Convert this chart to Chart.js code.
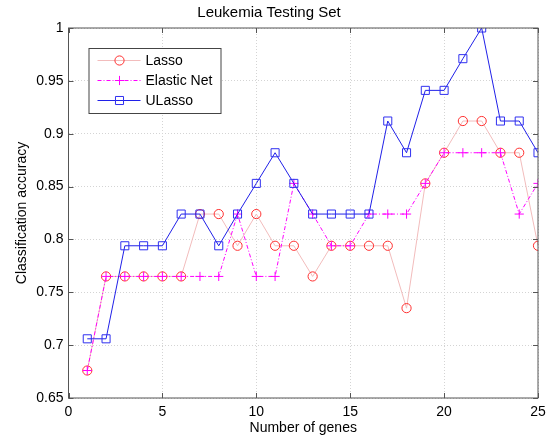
<!DOCTYPE html>
<html>
<head>
<meta charset="utf-8">
<script src="https://cdn.jsdelivr.net/npm/chart.js@4"></script>
<style>
  html, body { margin: 0; padding: 0; background: #fff; }
  #wrap { width: 552px; height: 440px; }
</style>
</head>
<body>
<div id="wrap"><canvas id="chart" width="552" height="440"></canvas></div>
<script>
// data (test set accuracies, steps of 1/34)
const genes = [1, 2, 3, 4, 5, 6, 7, 8, 9, 10, 11, 12, 13, 14, 15, 16, 17, 18, 19, 20, 21, 22, 23, 24, 25];
const lasso = [0.676, 0.765, 0.765, 0.765, 0.765, 0.765, 0.824, 0.824, 0.794, 0.824, 0.794, 0.794, 0.765,
               0.794, 0.794, 0.794, 0.794, 0.735, 0.853, 0.882, 0.912, 0.912, 0.882, 0.882, 0.794];
const elasticNet = [0.676, 0.765, 0.765, 0.765, 0.765, 0.765, 0.765, 0.765, 0.824, 0.765, 0.765, 0.853, 0.824,
                    0.794, 0.794, 0.824, 0.824, 0.824, 0.853, 0.882, 0.882, 0.882, 0.882, 0.824, 0.853];
const uLasso = [0.706, 0.706, 0.794, 0.794, 0.794, 0.824, 0.824, 0.794, 0.824, 0.853, 0.882, 0.853, 0.824,
                0.824, 0.824, 0.824, 0.912, 0.882, 0.941, 0.941, 0.971, 1.0, 0.912, 0.912, 0.882];
const seriesNames = ['Lasso', 'Elastic Net', 'ULasso'];
const xTicks = [0, 5, 10, 15, 20, 25];
const yTicks = [0.65, 0.7, 0.75, 0.8, 0.85, 0.9, 0.95, 1];

const FONT = "'Liberation Sans', Arial, sans-serif";
const AXIS = '#555';

const toPts = ys => ys.map((y, i) => ({ x: genes[i], y: y }));

// box, inward ticks on all sides, and the legend inside the axes
const matlabBox = {
    id: 'matlabBox',
    afterDatasetsDraw(chart) {
        const { ctx, chartArea: a, scales } = chart;
        ctx.save();
        ctx.strokeStyle = AXIS;
        ctx.lineWidth = 1;
        ctx.strokeRect(a.left, a.top, a.right - a.left, a.bottom - a.top);
        ctx.beginPath();
        xTicks.forEach(v => {
            const px = Math.round(scales.x.getPixelForValue(v)) + 0.5;
            ctx.moveTo(px, a.bottom); ctx.lineTo(px, a.bottom - 5);
            ctx.moveTo(px, a.top); ctx.lineTo(px, a.top + 5);
        });
        yTicks.forEach(v => {
            const py = Math.round(scales.y.getPixelForValue(v)) + 0.5;
            ctx.moveTo(a.left, py); ctx.lineTo(a.left + 5, py);
            ctx.moveTo(a.right, py); ctx.lineTo(a.right - 5, py);
        });
        ctx.stroke();

        // legend
        const lx = a.left + 20, ly = a.top + 20, lw = 132, lh = 65;
        ctx.fillStyle = '#fff';
        ctx.fillRect(lx, ly, lw, lh);
        ctx.strokeStyle = '#444';
        ctx.strokeRect(lx + 0.5, ly + 0.5, lw, lh);
        chart.data.datasets.forEach((ds, i) => {
            const y = ly + 12.5 + i * 20;
            ctx.save();
            ctx.strokeStyle = ds.borderColor;
            ctx.lineWidth = 1;
            ctx.setLineDash(ds.borderDash || []);
            ctx.beginPath();
            ctx.moveTo(lx + 9, y); ctx.lineTo(lx + 52, y);
            ctx.stroke();
            ctx.restore();
            ctx.save();
            ctx.strokeStyle = ds.pointBorderColor;
            ctx.fillStyle = 'rgba(0,0,0,0)';
            ctx.lineWidth = 1;
            Chart.helpers.drawPoint(ctx, { pointStyle: ds.pointStyle, radius: ds.pointRadius, borderWidth: 1 }, lx + 31, y);
            ctx.restore();
            ctx.fillStyle = '#000';
            ctx.font = '14px ' + FONT;
            ctx.textBaseline = 'middle';
            ctx.fillText(seriesNames[i], lx + 57, y + 1);
        });
        ctx.restore();
    }
};

new Chart(document.getElementById('chart'), {
    type: 'line',
    data: {
        datasets: [
            {
                label: seriesNames[0], data: toPts(lasso), order: 3,
                borderColor: '#f2bcbc', borderWidth: 1,
                pointStyle: 'circle', pointRadius: 4.6, pointBorderColor: '#ff3030',
                pointBackgroundColor: 'rgba(0,0,0,0)', pointBorderWidth: 1
            },
            {
                label: seriesNames[1], data: toPts(elasticNet), order: 2,
                borderColor: '#ff00ff', borderWidth: 1, borderDash: [4, 2, 1, 2],
                pointStyle: 'cross', pointRadius: 4.6, pointBorderColor: '#ff00ff',
                pointBackgroundColor: 'rgba(0,0,0,0)', pointBorderWidth: 1
            },
            {
                label: seriesNames[2], data: toPts(uLasso), order: 1,
                borderColor: '#2020e8', borderWidth: 1,
                pointStyle: 'rect', pointRadius: 5.7, pointBorderColor: '#3030f0',
                pointBackgroundColor: 'rgba(0,0,0,0)', pointBorderWidth: 1
            }
        ]
    },
    options: {
        responsive: false,
        animation: false,
        devicePixelRatio: 1,
        layout: { padding: { top: 0, right: 14, left: 0, bottom: 0 } },
        plugins: {
            legend: { display: false },
            tooltip: { enabled: false },
            title: {
                display: true,
                text: 'Leukemia Testing Set',
                color: '#000',
                font: { family: FONT, size: 15, weight: 'normal' },
                padding: { top: 4, bottom: 6 }
            }
        },
        scales: {
            x: {
                type: 'linear', min: 0, max: 25,
                afterBuildTicks: s => { s.ticks = xTicks.map(v => ({ value: v })); },
                afterFit: s => { s.height = 42; },
                grid: { color: '#d4d4d4', drawTicks: false, lineWidth: 1 },
                border: { display: false, dash: [1, 2] },
                ticks: { color: '#000', padding: 6, maxRotation: 0,
                         font: { family: FONT, size: 14 } },
                title: { display: true, text: 'Number of genes', color: '#000',
                         font: { family: FONT, size: 14 }, padding: { top: 0, bottom: 3.6 } }
            },
            y: {
                type: 'linear', min: 0.65, max: 1,
                afterBuildTicks: s => { s.ticks = yTicks.map(v => ({ value: v })); },
                afterFit: s => { s.width = 68.5; },
                grid: { color: '#d4d4d4', drawTicks: false, lineWidth: 1 },
                border: { display: false, dash: [1, 2] },
                ticks: { color: '#000', padding: 5,
                         font: { family: FONT, size: 14 },
                         callback: v => String(+v.toFixed(2)) },
                title: { display: true, text: 'Classification accuracy', color: '#000',
                         font: { family: FONT, size: 14 }, padding: { top: 14, bottom: 0 } }
            }
        }
    },
    plugins: [matlabBox]
});
</script>
</body>
</html>
